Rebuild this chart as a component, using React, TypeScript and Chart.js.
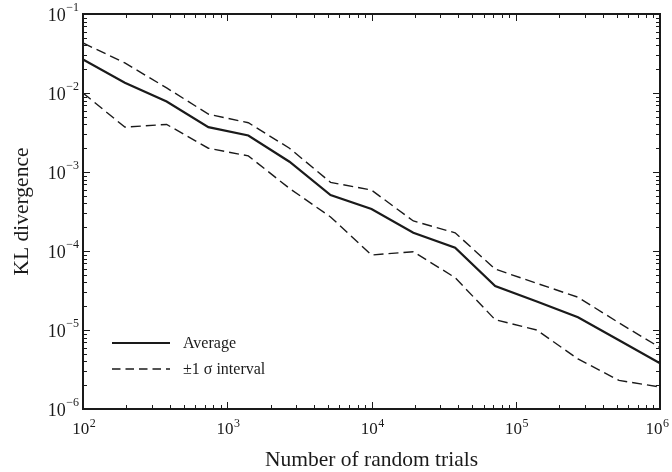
import React, { useEffect, useRef } from "react";
import { Chart, registerables } from "chart.js";

Chart.register(...registerables);

const trials = [100, 195, 380, 740, 1400, 2700, 5200, 10000, 19500, 38000, 72000, 140000, 270000, 520000, 1000000];
const average = [0.0265, 0.0135, 0.0078, 0.0037, 0.0029, 0.00135, 0.00051, 0.00034, 0.00017, 0.00011, 3.6e-5, 2.3e-5, 1.45e-5, 7.4e-6, 3.8e-6];
const upper = [0.043, 0.024, 0.0116, 0.0054, 0.0042, 0.002, 0.00074, 0.00059, 0.00024, 0.00017, 5.9e-5, 3.9e-5, 2.6e-5, 1.23e-5, 6e-6];
const lower = [0.0100, 0.0037, 0.0040, 0.0020, 0.0016, 0.00062, 0.00027, 8.9e-5, 9.8e-5, 4.6e-5, 1.35e-5, 1.0e-5, 4.3e-6, 2.3e-6, 1.9e-6];

const xTickExponents = [2, 3, 4, 5, 6];
const yTickExponents = [-6, -5, -4, -3, -2, -1];
const legendLabels = ["Average", "±1 σ interval"];
const xTitle = "Number of random trials";
const yTitle = "KL divergence";

const FONT = "'Liberation Serif', 'Times New Roman', serif";
const INK = "#1a1a1a";

function expText(e: number) {
  return e < 0 ? "\u2212" + Math.abs(e) : String(e);
}

const decorPlugin = {
  id: "decor",
  afterDraw(chart: any) {
    const ctx = chart.ctx as CanvasRenderingContext2D;
    const { left, right, top, bottom } = chart.chartArea;
    const xs = chart.scales.x;
    const ys = chart.scales.y;
    ctx.save();
    // frame
    ctx.strokeStyle = INK;
    ctx.lineWidth = 2;
    ctx.strokeRect(left, top, right - left, bottom - top);

    // ticks
    ctx.lineWidth = 1;
    const major = 7;
    const minor = 4;
    ctx.beginPath();
    for (let e = xTickExponents[0]; e <= xTickExponents[xTickExponents.length - 1]; e++) {
      for (let m = 1; m <= 9; m++) {
        const v = m * Math.pow(10, e);
        if (v > xs.max * 1.0001) break;
        const px = Math.round(xs.getPixelForValue(v)) + 0.5;
        const len = m === 1 ? major : minor;
        ctx.moveTo(px, bottom);
        ctx.lineTo(px, bottom - len);
        ctx.moveTo(px, top);
        ctx.lineTo(px, top + len);
      }
    }
    for (let e = yTickExponents[0]; e <= yTickExponents[yTickExponents.length - 1]; e++) {
      for (let m = 1; m <= 9; m++) {
        const v = m * Math.pow(10, e);
        if (v > ys.max * 1.0001) break;
        const py = Math.round(ys.getPixelForValue(v)) + 0.5;
        const len = m === 1 ? major : minor;
        ctx.moveTo(left, py);
        ctx.lineTo(left + len, py);
        ctx.moveTo(right, py);
        ctx.lineTo(right - len, py);
      }
    }
    ctx.stroke();

    // tick labels
    ctx.fillStyle = INK;
    ctx.textBaseline = "middle";
    for (const e of yTickExponents) {
      const py = ys.getPixelForValue(Math.pow(10, e));
      ctx.font = `12px ${FONT}`;
      const et = expText(e);
      const ew = ctx.measureText(et).width;
      ctx.textAlign = "left";
      ctx.fillText(et, 79 - ew, py - 6);
      ctx.font = `18px ${FONT}`;
      ctx.textAlign = "right";
      ctx.fillText("10", 79 - ew - 0.5, py + 2);
    }
    for (const e of xTickExponents) {
      const px = xs.getPixelForValue(Math.pow(10, e));
      ctx.font = `17px ${FONT}`;
      const w = ctx.measureText("10").width;
      ctx.font = `12px ${FONT}`;
      const ew = ctx.measureText(expText(e)).width;
      const total = w + 0.5 + ew;
      let x0 = px - total / 2 + 1;
      if (x0 + total > 669) x0 = 669 - total;
      ctx.textAlign = "left";
      ctx.font = `17px ${FONT}`;
      ctx.fillText("10", x0, 430);
      ctx.font = `12px ${FONT}`;
      ctx.fillText(expText(e), x0 + w + 0.5, 424);
    }

    // axis titles
    ctx.font = `21.5px ${FONT}`;
    ctx.textAlign = "center";
    ctx.textBaseline = "alphabetic";
    ctx.fillText(xTitle, (left + right) / 2 + 0, 466);
    ctx.save();
    ctx.translate(28, (top + bottom) / 2 + 0);
    ctx.rotate(-Math.PI / 2);
    ctx.fillText(yTitle, 0, 0);
    ctx.restore();

    // legend
    const lx0 = 112;
    const lx1 = 170;
    const ly = [343, 369];
    ctx.strokeStyle = INK;
    ctx.lineWidth = 2.2;
    ctx.setLineDash([]);
    ctx.beginPath();
    ctx.moveTo(lx0, ly[0]);
    ctx.lineTo(lx1, ly[0]);
    ctx.stroke();
    ctx.lineWidth = 1.5;
    ctx.setLineDash([8.5, 5]);
    ctx.beginPath();
    ctx.moveTo(lx0, ly[1]);
    ctx.lineTo(lx1, ly[1]);
    ctx.stroke();
    ctx.setLineDash([]);
    ctx.font = `16px ${FONT}`;
    ctx.textAlign = "left";
    ctx.textBaseline = "middle";
    ctx.fillText(legendLabels[0], 183, ly[0] + 1);
    ctx.fillText(legendLabels[1], 183, ly[1] + 1);
    ctx.restore();
  },
};

export default function App() {
  const ref = useRef<HTMLCanvasElement | null>(null);
  useEffect(() => {
    if (!ref.current) return;
    const toPts = (arr: number[]) => trials.map((x, i) => ({ x, y: arr[i] }));
    const chart = new Chart(ref.current, {
      type: "line",
      data: {
        datasets: [
          {
            label: legendLabels[0],
            data: toPts(average),
            borderColor: INK,
            borderWidth: 2.2,
            pointRadius: 0,
            tension: 0,
            fill: false,
          },
          {
            label: legendLabels[1],
            data: toPts(upper),
            borderColor: INK,
            borderWidth: 1.4,
            borderDash: [10, 5],
            pointRadius: 0,
            tension: 0,
            fill: false,
          },
          {
            label: legendLabels[1] + " (lower)",
            data: toPts(lower),
            borderColor: INK,
            borderWidth: 1.4,
            borderDash: [10, 5],
            pointRadius: 0,
            tension: 0,
            fill: false,
          },
        ],
      },
      options: {
        responsive: false,
        animation: false,
        devicePixelRatio: 1,
        layout: { padding: { top: 14, right: 12, left: 0, bottom: 0 } },
        plugins: { legend: { display: false }, tooltip: { enabled: false } },
        scales: {
          x: {
            type: "logarithmic",
            min: 100,
            max: 1000000,
            grid: { display: false },
            border: { display: false },
            ticks: { display: false },
            afterFit: (s: any) => {
              s.height = 63;
            },
          },
          y: {
            type: "logarithmic",
            min: 1e-6,
            max: 1e-1,
            grid: { display: false },
            border: { display: false },
            ticks: { display: false },
            afterFit: (s: any) => {
              s.width = 83;
            },
          },
        },
      } as any,
      plugins: [decorPlugin],
    });
    return () => chart.destroy();
  }, []);
  return (
    <div style={{ position: "fixed", left: 0, top: 0, width: 672, height: 472, background: "#fff" }}>
      <canvas ref={ref} width={672} height={472} />
    </div>
  );
}
